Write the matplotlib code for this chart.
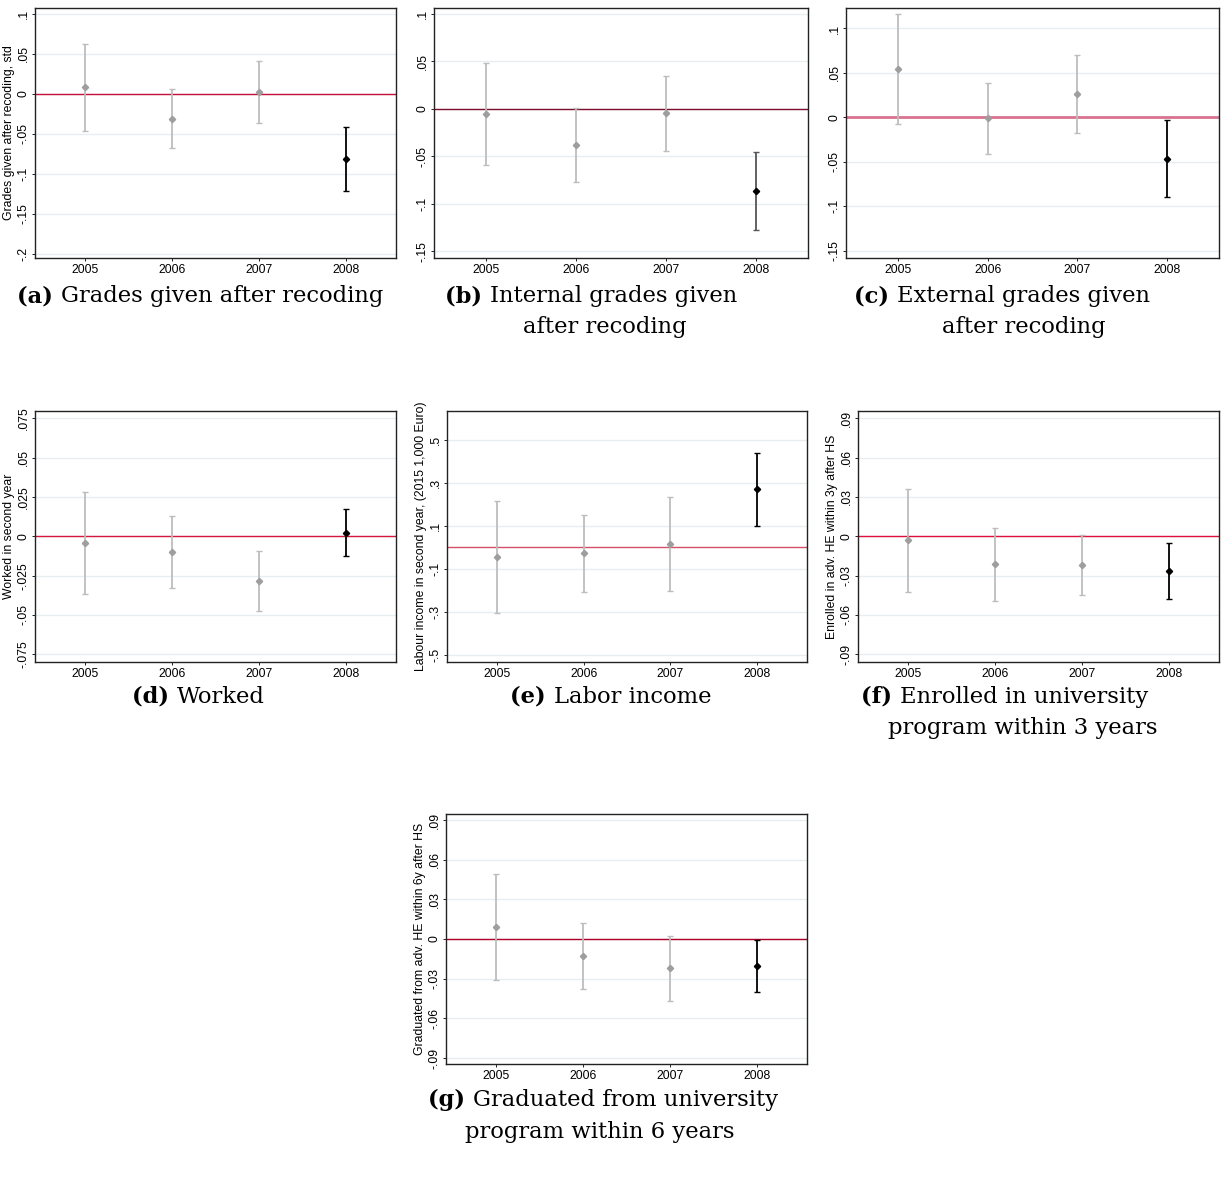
import numpy as np
import matplotlib
matplotlib.use("Agg")
import matplotlib.pyplot as plt

years = [2005, 2006, 2007, 2008]

# point estimates and 95% CI bounds per panel
coef_a = [0.008, -0.031, 0.0025, -0.081]
lo_a = [-0.046, -0.068, -0.037, -0.121]
hi_a = [0.0617, 0.006, 0.041, -0.041]

coef_b = [-0.0053, -0.038, -0.0046, -0.0866]
lo_b = [-0.0588, -0.0768, -0.044, -0.128]
hi_b = [0.0486, 0.0007, 0.0349, -0.0458]

coef_c = [0.0549, -0.0008, 0.0259, -0.0462]
lo_c = [-0.0075, -0.0406, -0.018, -0.0898]
hi_c = [0.1165, 0.0383, 0.0703, -0.003]

coef_d = [-0.0042, -0.010, -0.0284, 0.0023]
lo_d = [-0.0364, -0.0326, -0.0475, -0.0125]
hi_d = [0.0282, 0.0129, -0.0095, 0.0174]

coef_e = [-0.045, -0.029, 0.016, 0.270]
lo_e = [-0.307, -0.209, -0.203, 0.100]
hi_e = [0.216, 0.151, 0.233, 0.439]

coef_f = [-0.003, -0.0208, -0.0219, -0.0264]
lo_f = [-0.0425, -0.0491, -0.045, -0.0478]
hi_f = [0.0361, 0.0066, 0.001, -0.0051]

coef_g = [0.0091, -0.0129, -0.0222, -0.0204]
lo_g = [-0.0308, -0.0376, -0.0471, -0.0401]
hi_g = [0.0489, 0.0121, 0.002, -0.0008]

ticks_a = [0.1, 0.05, 0, -0.05, -0.1, -0.15, -0.2]
labels_a = [".1", ".05", "0", "-.05", "-.1", "-.15", "-.2"]
ticks_bc = [0.1, 0.05, 0, -0.05, -0.1, -0.15]
labels_bc = [".1", ".05", "0", "-.05", "-.1", "-.15"]
ticks_d = [0.075, 0.05, 0.025, 0, -0.025, -0.05, -0.075]
labels_d = [".075", ".05", ".025", "0", "-.025", "-.05", "-.075"]
ticks_e = [0.5, 0.3, 0.1, -0.1, -0.3, -0.5]
labels_e = [".5", ".3", ".1", "-.1", "-.3", "-.5"]
ticks_fg = [0.09, 0.06, 0.03, 0, -0.03, -0.06, -0.09]
labels_fg = [".09", ".06", ".03", "0", "-.03", "-.06", "-.09"]

W, H = 1225, 1183
fig = plt.figure(figsize=(W / 100, H / 100), dpi=100)
sans = "Liberation Sans"
serif = "DejaVu Serif"
tfs = 8.8


def add_panel(box, coef, lo, hi, ticks, labels, ylim, ylabel, zcol, zlw=1.0, last_bar="black"):
    l, t, r, b = box
    ax = fig.add_axes([l / W, 1 - b / H, (r - l) / W, (b - t) / H])
    for y in ticks:
        ax.axhline(y, color="#e6eef0", lw=1.0, zorder=0)
    ax.axhline(0, color=zcol, lw=zlw, zorder=1)
    for i, yr in enumerate(years):
        if i < 3:
            bc, pc = "#bdbdbd", "#9e9e9e"
        else:
            bc, pc = last_bar, "black"
        ax.errorbar(yr, coef[i], yerr=[[coef[i] - lo[i]], [hi[i] - coef[i]]],
                    fmt="none", ecolor=bc, elinewidth=1.3, capsize=2.5, capthick=1.0, zorder=2)
        ax.plot(yr, coef[i], marker="D", ms=3.2, color=pc, zorder=3)
    ax.set_xlim(2004.42, 2008.58)
    ax.set_ylim(*ylim)
    ax.set_xticks(years)
    ax.set_xticklabels([str(y) for y in years], fontsize=tfs, family=sans)
    ax.set_yticks(ticks)
    ax.set_yticklabels(labels, fontsize=tfs, family=sans, rotation=90, va="center")
    ax.tick_params(length=2, width=0.6, pad=2)
    for s in ax.spines.values():
        s.set_linewidth(1.0)
        s.set_color("#222222")
    if ylabel:
        ax.set_ylabel(ylabel, fontsize=tfs, family=sans, labelpad=2)
    return ax


add_panel((35, 8, 396, 258), coef_a, lo_a, hi_a, ticks_a, labels_a, (-0.205, 0.107),
          "Grades given after recoding, std", "#c8103c")
add_panel((434, 8, 808, 258), coef_b, lo_b, hi_b, ticks_bc, labels_bc, (-0.157, 0.106),
          None, "#7d0f2d", last_bar="#555555")
add_panel((846, 8, 1219, 258), coef_c, lo_c, hi_c, ticks_bc, labels_bc, (-0.158, 0.123),
          None, "#d9738f", zlw=2.0)
add_panel((35, 411, 396, 662), coef_d, lo_d, hi_d, ticks_d, labels_d, (-0.0799, 0.0797),
          "Worked in second year", "#d6163c")
add_panel((447, 411, 807, 662), coef_e, lo_e, hi_e, ticks_e, labels_e, (-0.534, 0.633),
          "Labour income in second year, (2015 1,000 Euro)", "#d4506a")
add_panel((858, 411, 1219, 662), coef_f, lo_f, hi_f, ticks_fg, labels_fg, (-0.0959, 0.0956),
          "Enrolled in adv. HE within 3y after HS", "#e0103c")
add_panel((446, 814, 807, 1064), coef_g, lo_g, hi_g, ticks_fg, labels_fg, (-0.0945, 0.0945),
          "Graduated from adv. HE within 6y after HS", "#b0002a")

# captions: (center x, y, bold tag, text)
captions = [
    (200, 296, "(a)", "Grades given after recoding"),
    (591, 296, "(b)", "Internal grades given"),
    (605, 327, "", "after recoding"),
    (1002, 296, "(c)", "External grades given"),
    (1024, 327, "", "after recoding"),
    (198, 697, "(d)", "Worked"),
    (611, 697, "(e)", "Labor income"),
    (1005, 697, "(f)", "Enrolled in university"),
    (1023, 728, "", "program within 3 years"),
    (603, 1100, "(g)", "Graduated from university"),
    (600, 1132, "", "program within 6 years"),
]
fs = 16.3
renderer = fig.canvas.get_renderer()
for cx, cy, tag, txt in captions:
    y = 1 - cy / H
    if tag:
        t1 = fig.text(0, y, tag + " ", fontsize=fs, family=serif, weight="bold", va="center")
        t2 = fig.text(0, y, txt, fontsize=fs, family=serif, va="center")
        w1 = t1.get_window_extent(renderer).width
        w2 = t2.get_window_extent(renderer).width
        x0 = cx - (w1 + w2) / 2
        t1.set_x(x0 / W)
        t2.set_x((x0 + w1) / W)
    else:
        fig.text(cx / W, y, txt, fontsize=fs, family=serif, ha="center", va="center")

fig.savefig("out.png", dpi=100)
